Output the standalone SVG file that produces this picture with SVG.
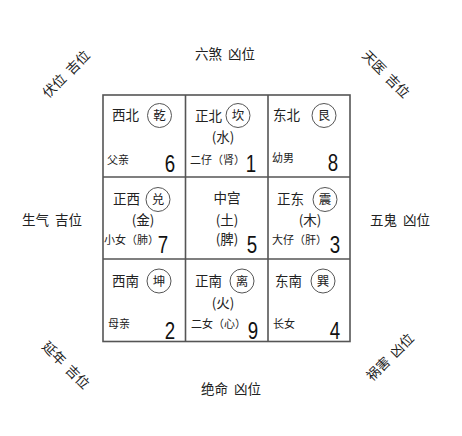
<svg xmlns="http://www.w3.org/2000/svg" width="462" height="436" viewBox="0 0 462 436">
<style>
text{font-family:"Noto Sans CJK SC","Noto Sans",sans-serif;fill:#222;}
.m{font-size:13.5px;}
.s{font-size:11px;}
.c{font-size:12.5px;text-anchor:middle;}
.p{font-size:13.5px;text-anchor:middle;}
.o{font-size:13.5px;text-anchor:middle;word-spacing:3px;}
.d{font-family:"Liberation Sans",Arial,sans-serif;font-size:24px;text-anchor:middle;fill:#111;}
.ring{fill:none;stroke:#555;stroke-width:1;}
.grid{fill:none;stroke:#555;stroke-width:1.6;}
</style>
<rect width="462" height="436" fill="#fff"/>
<g id="grid">
<rect class="grid" x="103" y="95" width="247" height="246.5"/>
<line class="grid" x1="185.5" y1="95" x2="185.5" y2="341.5"/>
<line class="grid" x1="268" y1="95" x2="268" y2="341.5"/>
<line class="grid" x1="103" y1="177" x2="350" y2="177"/>
<line class="grid" x1="103" y1="259" x2="350" y2="259"/>
</g>
<g id="connectors"></g>
<g id="cell-nw">
<text class="m" x="112" y="120">西北</text>
<circle class="ring" cx="159.5" cy="115.5" r="12"/>
<text class="c" x="159.5" y="120">乾</text>
<text class="s" x="107" y="164">父亲</text>
<text class="d" transform="translate(170,172) scale(0.78,1)">6</text>
</g>
<g id="cell-n">
<text class="m" x="195" y="121">正北</text>
<circle class="ring" cx="238" cy="115.5" r="12"/>
<text class="c" x="238" y="120">坎</text>
<text class="p" x="223" y="142">(水)</text>
<text class="s" x="190" y="164">二仔（肾）</text>
<text class="d" transform="translate(251,172) scale(0.78,1)">1</text>
</g>
<g id="cell-ne">
<text class="m" x="273" y="120">东北</text>
<circle class="ring" cx="324" cy="115.5" r="12"/>
<text class="c" x="324" y="120">艮</text>
<text class="s" x="272" y="162">幼男</text>
<text class="d" transform="translate(333,171) scale(0.78,1)">8</text>
</g>
<g id="cell-w">
<text class="m" x="113" y="204">正西</text>
<circle class="ring" cx="158" cy="199.5" r="12"/>
<text class="c" x="158" y="204">兑</text>
<text class="p" x="143" y="225">(金)</text>
<text class="s" x="104" y="244">小女（肺）</text>
<text class="d" transform="translate(163,253) scale(0.78,1)">7</text>
</g>
<g id="cell-c">
<text class="p" x="227" y="203">中宫</text>
<text class="p" x="227" y="225">(土)</text>
<text class="p" x="227" y="244">(脾)</text>
<text class="d" transform="translate(252,253) scale(0.78,1)">5</text>
</g>
<g id="cell-e">
<text class="m" x="277" y="204">正东</text>
<circle class="ring" cx="325" cy="199.5" r="12"/>
<text class="c" x="325" y="204">震</text>
<text class="p" x="310" y="225">(木)</text>
<text class="s" x="272" y="244">大仔（肝）</text>
<text class="d" transform="translate(335,253) scale(0.78,1)">3</text>
</g>
<g id="cell-sw">
<text class="m" x="112" y="286">西南</text>
<circle class="ring" cx="159" cy="281" r="12"/>
<text class="c" x="159" y="285.5">坤</text>
<text class="s" x="108" y="328">母亲</text>
<text class="d" transform="translate(170,339) scale(0.78,1)">2</text>
</g>
<g id="cell-s">
<text class="m" x="195" y="286">正南</text>
<circle class="ring" cx="242" cy="281" r="12"/>
<text class="c" x="242" y="285.5">离</text>
<text class="p" x="223" y="308">(火)</text>
<text class="s" x="191" y="328">二女（心）</text>
<text class="d" transform="translate(253,339) scale(0.78,1)">9</text>
</g>
<g id="cell-se">
<text class="m" x="275" y="286">东南</text>
<circle class="ring" cx="323" cy="281" r="12"/>
<text class="c" x="323" y="285.5">巽</text>
<text class="s" x="273" y="328">长女</text>
<text class="d" transform="translate(335,339) scale(0.78,1)">4</text>
</g>
<g id="label-n"><text class="o" x="225" y="59">六煞 凶位</text></g>
<g id="label-s"><text class="o" x="231" y="394">绝命 凶位</text></g>
<g id="label-w"><text class="o" x="52" y="225">生气 吉位</text></g>
<g id="label-e"><text class="o" x="400" y="225">五鬼 凶位</text></g>
<g id="label-nw"><text class="o" transform="translate(66,74) rotate(-45)" y="5">伏位 吉位</text></g>
<g id="label-ne"><text class="o" transform="translate(386,74) rotate(45)" y="5">天医 吉位</text></g>
<g id="label-sw"><text class="o" transform="translate(66,365) rotate(45)" y="5">延年 吉位</text></g>
<g id="label-se"><text class="o" transform="translate(390,357) rotate(-45)" y="5">祸害 凶位</text></g>
</svg>
